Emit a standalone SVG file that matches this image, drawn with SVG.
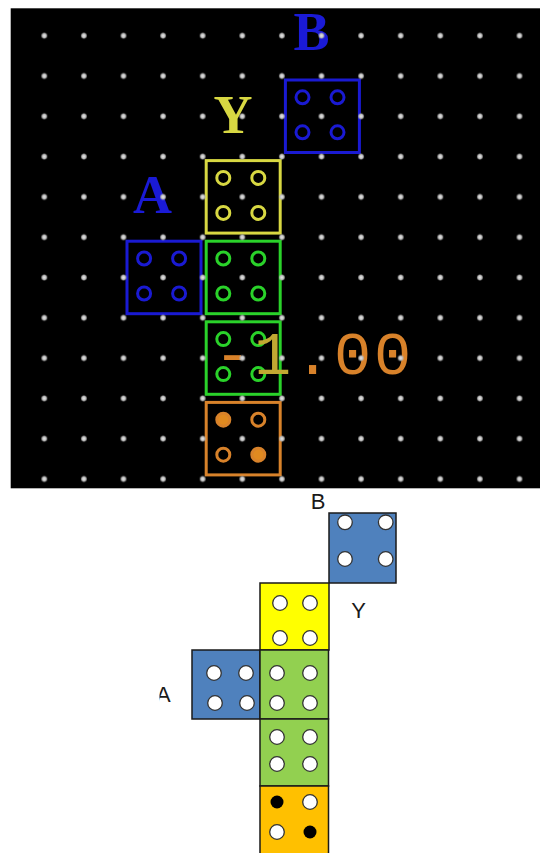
<svg xmlns="http://www.w3.org/2000/svg" width="540" height="853" viewBox="0 0 540 853">
<style>
.bg{fill:#ffffff}
.panel{fill:#000000}
.ol{fill:none;stroke-width:3}
.ring{fill:none;stroke-width:3}
.lbl{font-family:"Liberation Serif",serif;font-weight:bold;font-size:54px;text-anchor:middle}
.blue{stroke:#1a1ad2}
.yel{stroke:#d8d842}
.grn{stroke:#2ad22a}
.org{stroke:#d8822a}
.sq{stroke:#1a1a1a;stroke-width:1.5}
.hole{fill:#ffffff;stroke:#333333;stroke-width:1.3}
.peg{fill:#000000}
.t2{font-family:"Liberation Sans",Arial,sans-serif;font-size:22px;fill:#1a1a1a}
</style>
<defs>
<radialGradient id="dg">
<stop offset="0" stop-color="#ebebeb"/>
<stop offset="0.6" stop-color="#b8b8b8"/>
<stop offset="1" stop-color="#b8b8b8" stop-opacity="0"/>
</radialGradient>
<pattern id="dots" patternUnits="userSpaceOnUse" x="24.5" y="15.55" width="39.6" height="40.3">
<circle cx="19.8" cy="20.15" r="3.5" fill="url(#dg)"/>
</pattern>
<clipPath id="clipA"><rect x="159.5" y="660" width="40" height="60"/></clipPath>
</defs>
<rect class="bg" x="0" y="0" width="540" height="853"/>

<!-- top screenshot panel -->
<g id="panel">
<rect class="panel" x="10.7" y="8.3" width="529.3" height="480"/>
</g>

<g id="top-B" transform="translate(281.9,76)">
<rect class="ol blue" x="3.5" y="4" width="74" height="72.5"/>
<circle class="ring blue" cx="20.6" cy="21.3" r="6.5"/>
<circle class="ring blue" cx="55.6" cy="21.3" r="6.5"/>
<circle class="ring blue" cx="20.6" cy="56.3" r="6.5"/>
<circle class="ring blue" cx="55.6" cy="56.3" r="6.5"/>
</g>
<g id="top-Y" transform="translate(202.7,156.6)">
<rect class="ol yel" x="3.5" y="4" width="74" height="72.5"/>
<circle class="ring yel" cx="20.6" cy="21.3" r="6.5"/>
<circle class="ring yel" cx="55.6" cy="21.3" r="6.5"/>
<circle class="ring yel" cx="20.6" cy="56.3" r="6.5"/>
<circle class="ring yel" cx="55.6" cy="56.3" r="6.5"/>
</g>
<g id="top-A" transform="translate(123.5,237.2)">
<rect class="ol blue" x="3.5" y="4" width="74" height="72.5"/>
<circle class="ring blue" cx="20.6" cy="21.3" r="6.5"/>
<circle class="ring blue" cx="55.6" cy="21.3" r="6.5"/>
<circle class="ring blue" cx="20.6" cy="56.3" r="6.5"/>
<circle class="ring blue" cx="55.6" cy="56.3" r="6.5"/>
</g>
<g id="top-G1" transform="translate(202.7,237.2)">
<rect class="ol grn" x="3.5" y="4" width="74" height="72.5"/>
<circle class="ring grn" cx="20.6" cy="21.3" r="6.5"/>
<circle class="ring grn" cx="55.6" cy="21.3" r="6.5"/>
<circle class="ring grn" cx="20.6" cy="56.3" r="6.5"/>
<circle class="ring grn" cx="55.6" cy="56.3" r="6.5"/>
</g>
<g id="top-G2" transform="translate(202.7,317.8)">
<rect class="ol grn" x="3.5" y="4" width="74" height="72.5"/>
<circle class="ring grn" cx="20.6" cy="21.3" r="6.5"/>
<circle class="ring grn" cx="55.6" cy="21.3" r="6.5"/>
<circle class="ring grn" cx="20.6" cy="56.3" r="6.5"/>
<circle class="ring grn" cx="55.6" cy="56.3" r="6.5"/>
</g>
<g id="top-O" transform="translate(202.7,398.4)">
<rect class="ol org" x="3.5" y="4" width="74" height="72.5"/>
<circle class="ring org" cx="20.6" cy="21.3" r="6.5" style="fill:#e08a20"/>
<circle class="ring org" cx="55.6" cy="21.3" r="6.5"/>
<circle class="ring org" cx="20.6" cy="56.3" r="6.5"/>
<circle class="ring org" cx="55.6" cy="56.3" r="6.5" style="fill:#e08a20"/>
</g>

<g id="top-labels">
<text class="lbl" x="311.5" y="50" fill="#1a1ad6">B</text>
<text class="lbl" x="233" y="133" fill="#d8d842">Y</text>
<text class="lbl" x="152.5" y="213" fill="#1a1ad6">A</text>
</g>
<g id="top-value">
<text x="214" y="374" font-family="Liberation Mono,monospace" font-size="62" letter-spacing="2.8" fill="#d8822a">-<tspan fill="#c2a832">1</tspan>.00</text>
</g>

<g id="grid-dots">
<rect x="10.7" y="8.3" width="529.3" height="480" fill="url(#dots)"/>
</g>

<!-- bottom diagram -->
<g id="bot-B">
<rect class="sq" x="329" y="513" width="67" height="70" fill="#4f81bd"/>
<circle class="hole" cx="345" cy="522.3" r="7.3"/>
<circle class="hole" cx="385.7" cy="522.3" r="7.3"/>
<circle class="hole" cx="345" cy="559" r="7.3"/>
<circle class="hole" cx="385.7" cy="559" r="7.3"/>
<text class="t2" x="318" y="509" text-anchor="middle">B</text>
</g>
<g id="bot-Y">
<rect class="sq" x="260" y="583" width="69" height="67" fill="#ffff00"/>
<circle class="hole" cx="280" cy="603" r="7.3"/>
<circle class="hole" cx="310" cy="603" r="7.3"/>
<circle class="hole" cx="280" cy="638" r="7.3"/>
<circle class="hole" cx="310" cy="638" r="7.3"/>
<text class="t2" x="358.5" y="618" text-anchor="middle">Y</text>
</g>
<g id="bot-A">
<rect class="sq" x="192" y="650" width="68" height="69" fill="#4f81bd"/>
<circle class="hole" cx="214" cy="673" r="7.3"/>
<circle class="hole" cx="246" cy="673" r="7.3"/>
<circle class="hole" cx="215" cy="703" r="7.3"/>
<circle class="hole" cx="247" cy="703" r="7.3"/>
<text class="t2" x="156" y="702" clip-path="url(#clipA)">A</text>
</g>
<g id="bot-G1">
<rect class="sq" x="260" y="650" width="68.5" height="69" fill="#92d050"/>
<circle class="hole" cx="277" cy="673" r="7.3"/>
<circle class="hole" cx="310" cy="673" r="7.3"/>
<circle class="hole" cx="277" cy="703" r="7.3"/>
<circle class="hole" cx="310" cy="703" r="7.3"/>
</g>
<g id="bot-G2">
<rect class="sq" x="260" y="719" width="68.5" height="67" fill="#92d050"/>
<circle class="hole" cx="277" cy="737" r="7.3"/>
<circle class="hole" cx="310" cy="737" r="7.3"/>
<circle class="hole" cx="277" cy="764" r="7.3"/>
<circle class="hole" cx="310" cy="764" r="7.3"/>
</g>
<g id="bot-O">
<rect class="sq" x="260" y="786" width="68.5" height="70" fill="#ffc000"/>
<circle class="peg" cx="277" cy="802" r="6.5"/>
<circle class="hole" cx="310" cy="802" r="7.3"/>
<circle class="hole" cx="277" cy="832" r="7.3"/>
<circle class="peg" cx="310" cy="832" r="6.5"/>
</g>
<g id="connectors"/>
</svg>
